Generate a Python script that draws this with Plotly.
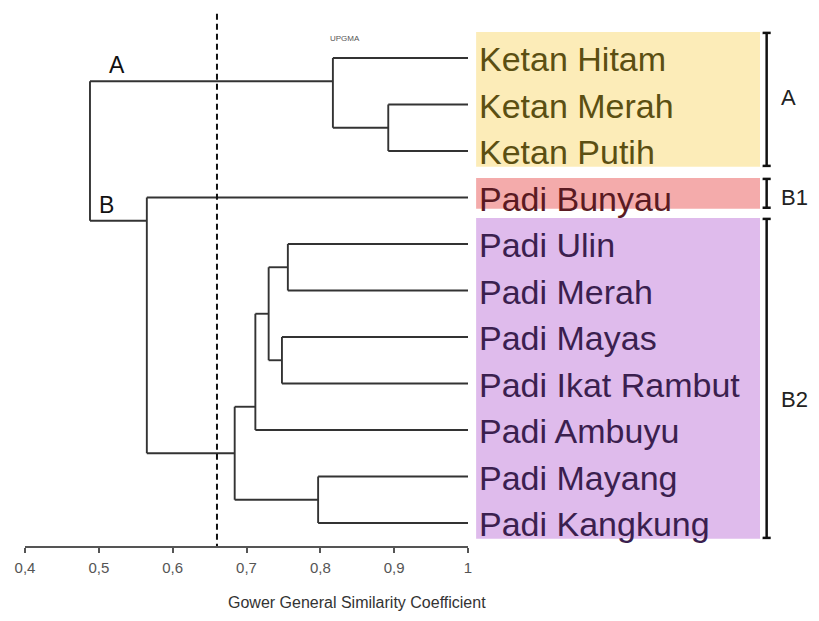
import plotly.graph_objects as go

# Leaves from top to bottom
leaves = ["Ketan Hitam", "Ketan Merah", "Ketan Putih", "Padi Bunyau",
          "Padi Ulin", "Padi Merah", "Padi Mayas", "Padi Ikat Rambut",
          "Padi Ambuyu", "Padi Mayang", "Padi Kangkung"]

# UPGMA merges: leaves are 0..10, merge k creates node 11+k
merge_left = [1, 0, 4, 6, 13, 15, 9, 16, 3, 12]
merge_right = [2, 11, 5, 7, 14, 8, 10, 17, 18, 19]
merge_sim = [0.892, 0.817, 0.756, 0.748, 0.730, 0.712, 0.797, 0.684, 0.565, 0.488]

cut_value = 0.66
tick_vals = [0.4, 0.5, 0.6, 0.7, 0.8, 0.9, 1.0]
tick_text = ["0,4", "0,5", "0,6", "0,7", "0,8", "0,9", "1"]

# groups: name, first leaf, last leaf
group_names = ["A", "B1", "B2"]
group_first = [0, 3, 4]
group_last = [2, 3, 10]
group_fill = ["#fcecb8", "#f4abab", "#dfbbec"]
group_text = ["#5b4f12", "#5a1a22", "#3b1f4f"]

LINE = "#333333"
FONT = "Liberation Sans, Arial"

# build node geometry
n = len(leaves)
node_x = [1.0] * n
node_y = [float(i) for i in range(n)]
node_lo = list(range(n))
node_hi = list(range(n))
for l, r, s in zip(merge_left, merge_right, merge_sim):
    node_x.append(s)
    node_y.append((node_hi[l] + node_lo[r]) / 2)
    node_lo.append(min(node_lo[l], node_lo[r]))
    node_hi.append(max(node_hi[l], node_hi[r]))

xs, ys = [], []
for l, r, s in zip(merge_left, merge_right, merge_sim):
    # vertical stem
    xs += [s, s, None]
    ys += [node_y[l], node_y[r], None]
    # horizontal arms to children
    for c in (l, r):
        xs += [s, node_x[c], None]
        ys += [node_y[c], node_y[c], None]

fig = go.Figure()

# coloured boxes behind labels, with brackets on the right
pads = {"A": (0.56, 0.34), "B1": (0.42, 0.24), "B2": (0.56, 0.34)}
for name, f, la, col in zip(group_names, group_first, group_last, group_fill):
    pt, pb = pads[name]
    fig.add_shape(type="rect", xref="x", yref="y", x0=1.011, x1=1.3955,
                  y0=f - pt, y1=la + pb, fillcolor=col, line_width=0, layer="below")
    y0, y1 = f - pt + 0.02, la + pb - 0.02
    fig.add_trace(go.Scatter(
        x=[1.4045, 1.4045, None, 1.399, 1.41, None, 1.399, 1.41],
        y=[y0, y1, None, y0, y0, None, y1, y1],
        mode="lines", line=dict(color="#111111", width=2.5),
        hoverinfo="skip", showlegend=False))

fig.add_trace(go.Scatter(x=xs, y=ys, mode="lines",
                         line=dict(color=LINE, width=1.9),
                         hoverinfo="skip", showlegend=False))

# cut line
fig.add_trace(go.Scatter(x=[cut_value, cut_value], y=[-0.95, 10.5], mode="lines",
                         line=dict(color="#111111", width=2, dash="6px,4px"),
                         hoverinfo="skip", showlegend=False))

# leaf labels
for g, (f, la) in enumerate(zip(group_first, group_last)):
    for i in range(f, la + 1):
        fig.add_annotation(x=1.0, y=i, text=leaves[i], xref="x", yref="y",
                           xanchor="left", yanchor="middle", xshift=9, yshift=-1,
                           showarrow=False,
                           font=dict(family=FONT, size=34, color=group_text[g]))

# group labels right
label_rows = [0.86, 3.0, 7.35]
for name, yr in zip(group_names, label_rows):
    fig.add_annotation(x=1.421, y=yr, text=name, xref="x", yref="y",
                       xanchor="left", yanchor="middle", showarrow=False,
                       font=dict(family=FONT, size=22, color="#222222"))

# branch labels left
fig.add_annotation(x=0.524, y=node_y[11 + 1], text="A", xref="x", yref="y",
                   yanchor="bottom", yshift=1, showarrow=False,
                   font=dict(family=FONT, size=23, color="#111111"))
fig.add_annotation(x=0.511, y=node_y[11 + 8], text="B", xref="x", yref="y",
                   yanchor="bottom", yshift=1, showarrow=False,
                   font=dict(family=FONT, size=23, color="#111111"))

fig.add_annotation(x=0.833, y=-0.43, text="UPGMA", xref="x", yref="y",
                   showarrow=False,
                   font=dict(family=FONT, size=8, color="#555555"))

fig.add_annotation(x=0.85, y=0, xref="x", yref="paper", yshift=-66,
                   text="Gower General Similarity Coefficient", showarrow=False,
                   font=dict(family=FONT, size=16, color="#333333"))

# axis line
fig.add_shape(type="line", xref="x", yref="paper", x0=min(tick_vals), x1=max(tick_vals),
              y0=0, y1=0, line=dict(color="#555555", width=2))

fig.update_xaxes(range=[0.37697, 1.4754], tickvals=tick_vals, ticktext=tick_text,
                 ticks="outside", ticklen=5, tickwidth=2, tickcolor="#555555",
                 tickfont=dict(family=FONT, size=15, color="#555555"),
                 showgrid=False, zeroline=False, showline=False, ticklabelstandoff=2)
fig.update_yaxes(range=[10.516, -1.0753], visible=False, showgrid=False, zeroline=False)

# page body adds an 8px offset, so the figure is 8px smaller than the window
fig.update_layout(width=811, height=613, margin=dict(l=0, r=0, t=0, b=74),
                  plot_bgcolor="white", paper_bgcolor="white", showlegend=False)

fig.write_html("out.html")
